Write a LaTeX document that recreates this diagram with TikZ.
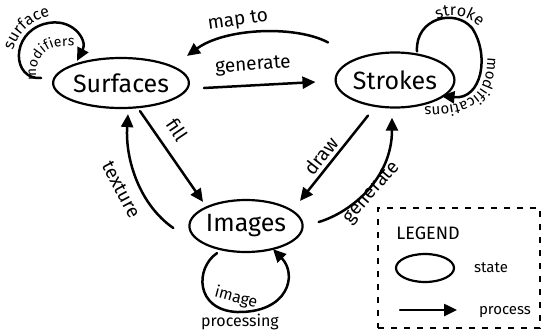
\documentclass[tikz,border=0pt]{standalone}
\usepackage{fontspec}
\setmainfont{Fira Sans}
\usetikzlibrary{arrows.meta,shapes.geometric,decorations.text}
\tikzset{
  state/.style={ellipse, draw, line width=2.2pt, inner sep=0pt, font=\fontsize{25}{25}\selectfont},
  arr/.style={line width=2.5pt, line cap=round, -{Triangle[length=13pt,width=12pt]}},
  lbl/.style={inner sep=0pt, font=\fontsize{19}{19}\selectfont},
  small/.style={inner sep=0pt, font=\fontsize{15}{15}\selectfont},
  legendbox/.style={draw, dashed, line width=1.2pt, dash pattern=on 6pt off 7pt},
}
\begin{document}
\begin{tikzpicture}[x=1pt,y=-1pt]
\useasboundingbox[fill=white] (0,0) rectangle (543,335);
% states
\node[state, minimum width=124pt, minimum height=50pt] (surf) at (121,83) {Surfaces};
\node[state, minimum width=116pt, minimum height=55pt] (strk) at (395,80) {Strokes};
\node[state, minimum width=104pt, minimum height=52pt] (img) at (246,226) {Images};
% generate (surfaces -> strokes)
\draw[arr] ([shift={(14,5)}]surf.east) -- ([shift={(-19,2)}]strk.west);
\node[lbl, rotate=4] (lgen1) at (253,66) {generate};
% map to
\draw[arr] ([shift={(-67,-9)}]strk.north) .. controls (295,25) and (225,28) .. ([shift={(66,-1)}]surf.north);
\node[lbl, rotate=8] (lmap) at (238,21) {map to};
% fill
\draw[arr] ([shift={(19,2)}]surf.south) -- ([shift={(-43,3)}]img.north);
\node[lbl, rotate=-56] (lfill) at (177,130) {f{}ill};
% texture
\draw[arr] ([shift={(-15,2)}]img.west) .. controls (140,205) and (125,160) .. ([shift={(7,5)}]surf.south);
\node[lbl, rotate=-62] (ltex) at (121,190) {texture};
% draw
\draw[arr] ([shift={(-27,7)}]strk.south) -- ([shift={(54,2)}]img.north);
\node[lbl, rotate=52] (ldraw) at (321,156) {draw};
% generate (images -> strokes)
\draw[arr] ([shift={(15,-4)}]img.east) .. controls (352,212) and (392,178) .. ([shift={(-3,9)}]strk.south);
\node[lbl, rotate=49] (lgen2) at (372,193) {generate};
% surface modifiers loop
\draw[arr] ([shift={(-11,-5)}]surf.west) .. controls (12,80) and (10,34) .. (44,24) .. controls (72,16) and (88,40) .. ([shift={(-44,4)}]surf.north);
\path[decorate, decoration={text along path, text align=center, text={|\fontsize{16}{16}\selectfont|surface}}]
  (10,74) .. controls (10,34) and (30,14) .. (74,13);
\path[decorate, decoration={text along path, text align=center, text={|\fontsize{14}{14}\selectfont|modifiers}}]
  (38,88) .. controls (30,56) and (48,40) .. (82,48);
% stroke modifications loop
\draw[arr] ([shift={(22,0)}]strk.north) .. controls (415,18) and (455,8) .. (472,28) .. controls (490,55) and (482,100) .. ([shift={(-14,16)}]strk.east);
\path[decorate, decoration={text along path, text align=center, text={|\fontsize{16}{16}\selectfont|stroke}}]
  (418,34) .. controls (440,8) and (474,8) .. (494,46);
\path[decorate, decoration={text along path, text align=center, text={|\fontsize{15}{15}\selectfont|modifications}}]
  (487,38) .. controls (491,98) and (476,108) .. (405,107);
% image processing loop
\draw[arr] ([shift={(-29,0)}]img.south) .. controls (195,268) and (195,310) .. (237,312) .. controls (288,313) and (298,275) .. ([shift={(27,-4)}]img.south);
\node[small, rotate=-15, font=\fontsize{16}{16}\selectfont] (limg) at (236,298) {image};
\node[small, font=\fontsize{16}{16}\selectfont] (lproc) at (240,322) {processing};
% legend
\node[legendbox, minimum width=162pt, minimum height=120pt, inner sep=0pt] (legend) at (459,268) {};
\node[inner sep=0pt, font=\fontsize{18}{18}\selectfont] (ltitle) at (428,233) {LEGEND};
\node[ellipse, draw, line width=2.2pt, minimum width=58pt, minimum height=28pt, inner sep=0pt] (lstate) at (425,268) {};
\node[small] (lstatet) at (491,268) {state};
\coordinate (la) at (400,310);
\coordinate (lb) at (457,310);
\draw[arr] (la) -- (lb);
\node[small] (lprocess) at (505,312) {process};
\end{tikzpicture}
\end{document}
